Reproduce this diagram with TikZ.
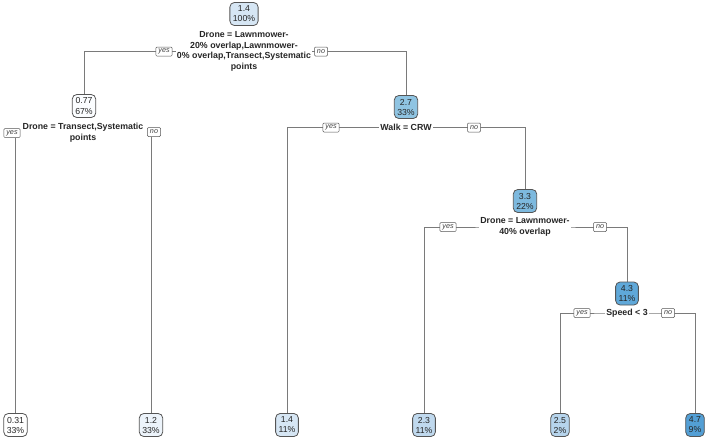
\documentclass[tikz,border=0pt]{standalone}
\usepackage{fontspec}
\setmainfont{Liberation Sans}
\usetikzlibrary{backgrounds}
\definecolor{c031}{HTML}{FFFFFF}
\definecolor{c077}{HTML}{FBFDFF}
\definecolor{c12}{HTML}{EDF4FB}
\definecolor{c14}{HTML}{D6E6F4}
\definecolor{c23}{HTML}{C0D9EE}
\definecolor{c25}{HTML}{B6D4EC}
\definecolor{c27}{HTML}{8FC4E2}
\definecolor{c33}{HTML}{7DB9DE}
\definecolor{c43}{HTML}{5FA8D9}
\definecolor{c47}{HTML}{539FD5}
\definecolor{edgegray}{HTML}{7A7A7A}
\definecolor{boxgray}{HTML}{555555}
\tikzset{
  treebox/.style={draw=boxgray, line width=0.8pt, rounded corners=4.5pt, align=center,
    font=\fontsize{8.7}{10}\selectfont, inner xsep=3pt, inner ysep=2pt, minimum height=23pt, text=black!85},
  splittext/.style={fill=white, align=center, font=\fontsize{8.8}{10.6}\selectfont\bfseries, inner sep=1pt, text=black!85},
  yn/.style={draw=boxgray, fill=white, line width=0.5pt, rounded corners=1pt, font=\fontsize{7.2}{8}\selectfont\itshape,
    inner xsep=2.5pt, inner ysep=1.2pt, minimum height=9pt, text=black!75},
  conn/.style={draw=edgegray, line width=0.9pt}
}
\begin{document}
\begin{tikzpicture}[x=1pt,y=-1pt]
\useasboundingbox (0,0) rectangle (709,440);
% nodes
\node[treebox, fill=c14] (root) at (244,14) {1.4\\100\%};
\node[splittext] (s0) at (244,51.5) {Drone = Lawnmower-\\20\% overlap,Lawnmower-\\0\% overlap,Transect,Systematic\\points};
\node[treebox, fill=c077] (n077) at (84,106) {0.77\\67\%};
\node[splittext] (s1) at (83,133) {Drone = Transect,Systematic\\points};
\node[treebox, fill=c031] (l031) at (15.5,425) {0.31\\33\%};
\node[treebox, fill=c12] (l12) at (151,425) {1.2\\33\%};
\node[treebox, fill=c27] (n27) at (406,107) {2.7\\33\%};
\node[splittext] (s2) at (406,127.5) {Walk = CRW};
\node[treebox, fill=c14] (l14) at (287,425) {1.4\\11\%};
\node[treebox, fill=c33] (n33) at (525,201) {3.3\\22\%};
\node[splittext] (s3) at (525,227) {Drone = Lawnmower-\\40\% overlap};
\node[treebox, fill=c23] (l23) at (424,425) {2.3\\11\%};
\node[treebox, fill=c43] (n43) at (627,293.5) {4.3\\11\%};
\node[splittext] (s4) at (627,313) {Speed < 3};
\node[treebox, fill=c25] (l25) at (560,425) {2.5\\2\%};
\node[treebox, fill=c47] (l47) at (695,425) {4.7\\9\%};
% yes/no labels
\node[yn] (y0) at (164,51.5) {yes};
\node[yn] (o0) at (321,51.5) {no};
\node[yn] (y1) at (12,133) {yes};
\node[yn] (o1) at (154,132) {no};
\node[yn] (y2) at (331,127.5) {yes};
\node[yn] (o2) at (474,127.5) {no};
\node[yn] (y3) at (448,227) {yes};
\node[yn] (o3) at (600,227) {no};
\node[yn] (y4) at (582,313) {yes};
\node[yn] (o4) at (668,313) {no};
% connectors
\begin{scope}[on background layer]
\draw[conn] (n077.north) |- (s0.center) -| (n27.north);
\draw[conn] (l031.north) -- (y1.south -| l031.north);
\draw[conn] (l12.north) -- (o1.south -| l12.north);
\draw[conn] (l14.north) |- (s2.center) -| (n33.north);
\draw[conn] (l23.north) |- (s3.center) -| (n43.north);
\draw[conn] (l25.north) |- (s4.center) -| (l47.north);
\end{scope}
\end{tikzpicture}
\end{document}
